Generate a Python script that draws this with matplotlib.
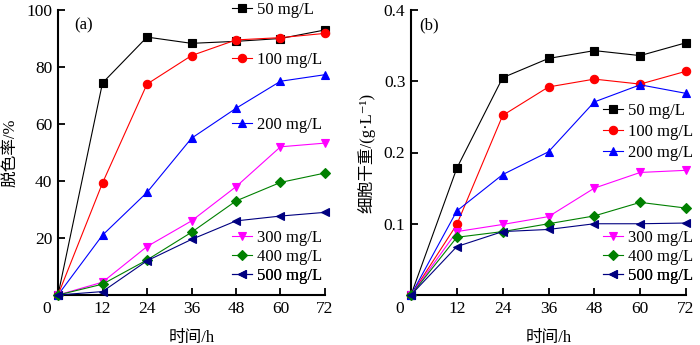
import matplotlib
matplotlib.use("Agg")
import matplotlib.pyplot as plt
from matplotlib.lines import Line2D

plt.rcParams['font.family'] = ['Liberation Serif', 'Noto Sans CJK SC', 'DejaVu Sans']

time_h = [0, 12, 24, 36, 48, 60, 72]
labels = ["50 mg/L", "100 mg/L", "200 mg/L", "300 mg/L", "400 mg/L", "500 mg/L"]
colors = ["black", "red", "blue", "magenta", "green", "#000080"]
markers = ["s", "o", "^", "v", "D", "<"]

decol_50 = [0, 74.4, 90.5, 88.3, 89.0, 90.0, 93.0]
decol_100 = [0, 39.3, 74.0, 84.0, 89.5, 90.3, 91.8]
decol_200 = [0, 21.0, 36.0, 55.0, 65.5, 75.0, 77.3]
decol_300 = [0, 4.5, 17.0, 26.0, 38.0, 52.0, 53.3]
decol_400 = [0, 3.8, 12.3, 22.0, 33.0, 39.5, 42.8]
decol_500 = [0, 1.2, 12.0, 19.5, 26.0, 27.7, 29.0]

dw_50 = [0, 0.178, 0.305, 0.332, 0.343, 0.336, 0.354]
dw_100 = [0, 0.099, 0.252, 0.292, 0.303, 0.296, 0.314]
dw_200 = [0, 0.118, 0.169, 0.201, 0.271, 0.295, 0.283]
dw_300 = [0, 0.089, 0.099, 0.110, 0.150, 0.172, 0.175]
dw_400 = [0, 0.081, 0.089, 0.100, 0.111, 0.130, 0.122]
dw_500 = [0, 0.068, 0.089, 0.092, 0.100, 0.100, 0.101]

decol = [decol_50, decol_100, decol_200, decol_300, decol_400, decol_500]
dw = [dw_50, dw_100, dw_200, dw_300, dw_400, dw_500]

W, H = 700, 345
fig = plt.figure(figsize=(W / 100, H / 100), dpi=100)
axA = fig.add_axes([58 / W, 1 - 295 / H, (325 - 58) / W, (295 - 10) / H])
axB = fig.add_axes([411 / W, 1 - 295 / H, (686 - 411) / W, (295 - 10) / H])

def style(ax, ymax, yticks, yticklabels):
    for s in ['top', 'right']:
        ax.spines[s].set_visible(False)
    for s in ['left', 'bottom']:
        ax.spines[s].set_linewidth(1.5)
    ax.set_xlim(0, 72)
    ax.set_ylim(0, ymax)
    ax.set_xticks([12, 24, 36, 48, 60, 72])
    ax.set_yticks(yticks)
    ax.set_yticklabels(yticklabels)
    ax.tick_params(direction='in', length=5, width=1.3, labelsize=12.5, pad=4)
    ax.text(-0.025, -0.02, "0", transform=ax.transAxes, ha='right', va='top', fontsize=12.5)
    ax.set_xlabel("时间/h", fontsize=12, labelpad=10)

def mk(i):
    return dict(color=colors[i], marker=markers[i], markersize=6 if markers[i] != 'D' else 5,
                linewidth=0.8, markeredgewidth=0.8)

for i in range(6):
    axA.plot(time_h, decol[i], clip_on=False, zorder=3, **mk(i))
    axB.plot(time_h, dw[i], clip_on=False, zorder=3, **mk(i))

style(axA, 100, [20, 40, 60, 80, 100], ["20", "40", "60", "80", "100"])
style(axB, 0.4, [0.1, 0.2, 0.3, 0.4], ["0.1", "0.2", "0.3", "0.4"])
axA.set_ylabel("脱色率/%", fontsize=12, labelpad=6)
axB.set_ylabel("细胞干重/(g·L⁻¹)", fontsize=12, labelpad=6)
axA.text(0.06, 0.975, "(a)", transform=axA.transAxes, fontsize=12, va='top')
axB.text(0.03, 0.975, "(b)", transform=axB.transAxes, fontsize=12, va='top')

def entry(ax, i, xpix, ypix):
    h = Line2D([0], [0], **mk(i))
    leg = ax.legend([h], [labels[i]], loc='center left',
                    bbox_to_anchor=(xpix / W, 1 - ypix / H), bbox_transform=fig.transFigure,
                    frameon=False, fontsize=12, handlelength=1.2, handletextpad=0.3,
                    borderpad=0, borderaxespad=0)
    ax.add_artist(leg)

for i, yp in zip(range(6), [10, 60, 125, 238, 257, 276]):
    entry(axA, i, 232, yp)
for i, yp in zip(range(6), [111, 132, 153, 238, 257, 276]):
    entry(axB, i, 603, yp)

fig.savefig("out.png", dpi=100)
